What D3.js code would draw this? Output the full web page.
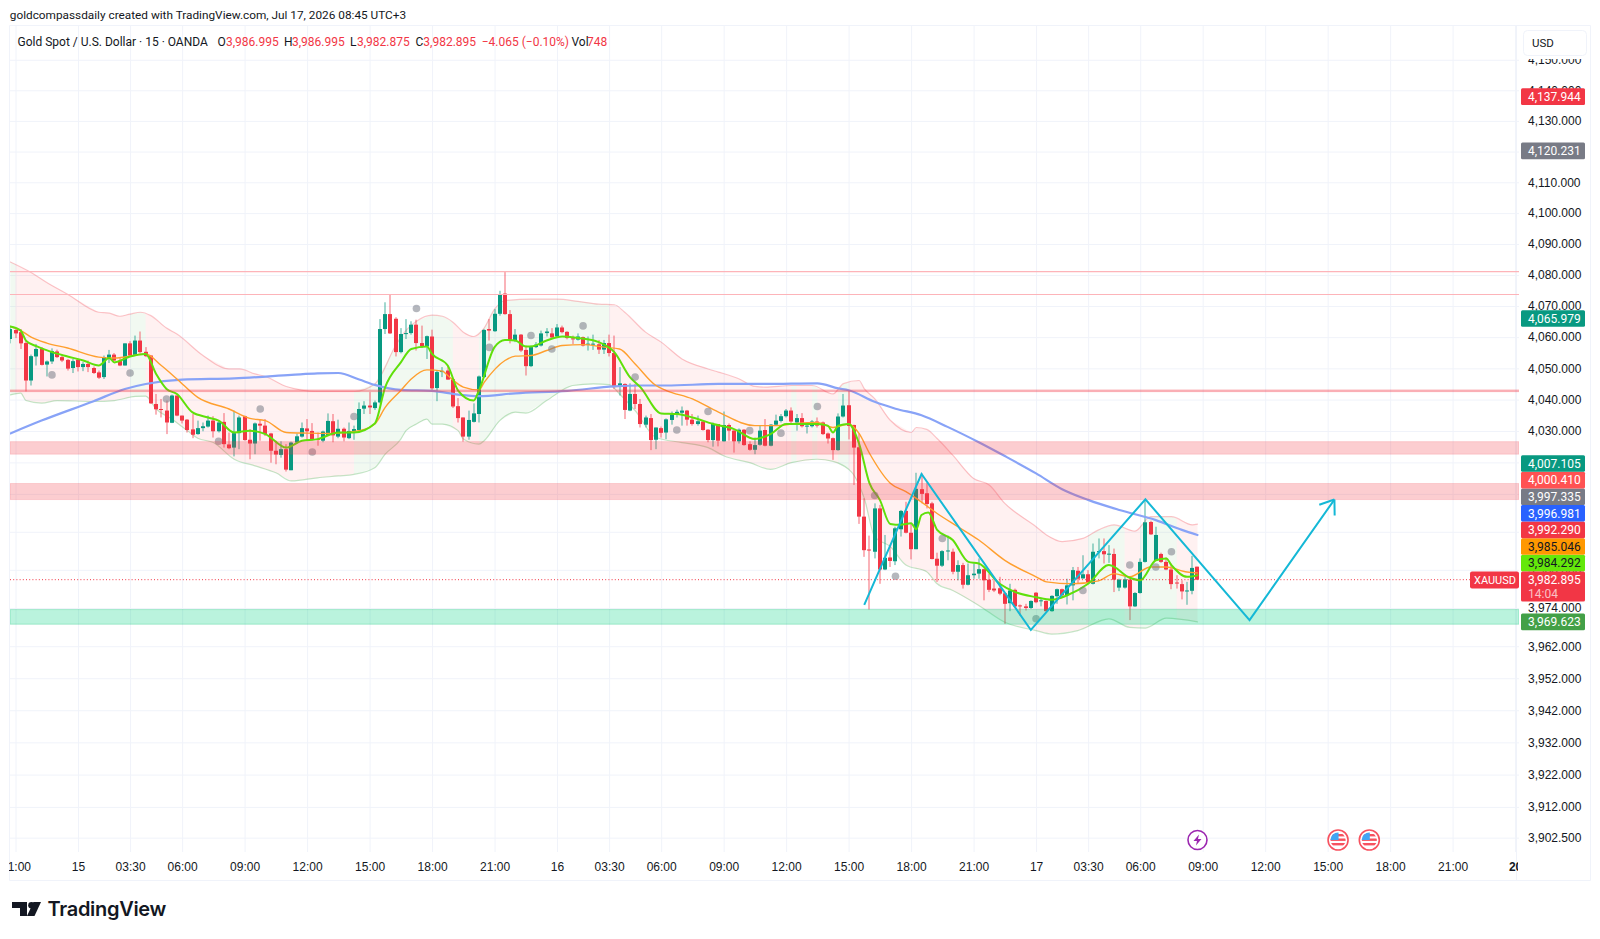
<!DOCTYPE html>
<html>
<head>
<meta charset="utf-8">
<title>XAUUSD 15m</title>
<script src="https://cdn.jsdelivr.net/npm/d3@7"></script>
<style>
  html, body { margin: 0; padding: 0; background: #fff; }
  svg { display: block; font-family: Roboto, "Open Sans", sans-serif; }
</style>
</head>
<body>
<svg id="chart" width="1600" height="939"></svg>
<script>
// Candles by session, each row is [open, high, low, close]. Bar 0 is 01:00 on the 15th.
const session14 = [
  [4059.4,4063.4,4058.0,4062.6],[4062.3,4062.9,4059.7,4061.2],[4061.6,4062.6,4056.2,4058.0],[4058.1,4058.9,4042.6,4046.1],
  [4046.1,4054.4,4044.5,4053.9],[4053.8,4057.8,4050.9,4056.2],[4056.4,4056.8,4050.9,4051.1],[4051.2,4052.5,4047.4,4052.2],
  [4052.2,4056.4,4051.4,4055.5],[4055.4,4056.0,4053.3,4053.6],[4053.6,4054.1,4052.0,4052.5],[4052.7,4053.0,4049.3,4049.9],
  [4050.1,4053.0,4048.5,4052.3]
];
const session15 = [
  [4052.8,4053.0,4049.0,4050.4],[4050.4,4052.0,4049.1,4051.4],[4051.4,4052.5,4048.8,4050.4],[4050.1,4050.6,4048.2,4048.5],
  [4048.7,4049.3,4046.6,4047.0],[4047.2,4054.1,4046.6,4053.6],[4053.3,4055.9,4051.7,4054.4],[4054.4,4054.9,4052.3,4052.5],
  [4052.5,4053.3,4050.7,4050.9],[4050.9,4058.0,4050.9,4058.0],[4058.0,4058.7,4053.8,4054.1],[4054.3,4060.5,4054.1,4058.9],
  [4058.9,4061.8,4054.8,4055.2],[4055.3,4056.8,4053.6,4053.9],[4054.1,4054.1,4038.6,4038.8],[4038.6,4041.8,4035.2,4036.9],
  [4037.0,4040.2,4034.3,4036.7],[4036.5,4039.7,4029.0,4032.7],[4032.6,4041.6,4032.5,4041.3],[4041.3,4041.3,4034.7,4034.9],
  [4034.9,4034.9,4032.4,4033.3],[4033.6,4033.8,4029.5,4030.3],[4030.5,4035.4,4027.7,4028.8],[4029.0,4033.3,4028.8,4030.9],
  [4030.9,4032.7,4029.9,4031.5],[4031.4,4034.9,4031.1,4033.3],[4033.3,4034.7,4027.9,4029.9],[4029.9,4033.5,4029.5,4032.7],
  [4032.9,4035.7,4024.7,4025.8],[4025.7,4029.5,4024.2,4024.5],[4024.7,4036.5,4021.9,4029.3],[4029.3,4034.9,4024.2,4034.3],
  [4034.7,4034.9,4026.9,4027.1],[4027.2,4030.6,4021.0,4026.0],[4026.0,4032.7,4022.6,4032.4],[4032.3,4033.6,4026.9,4031.7],
  [4031.7,4033.8,4028.4,4029.0],[4029.2,4029.4,4019.9,4023.7],[4023.7,4026.9,4019.4,4022.5],[4022.4,4026.7,4021.5,4024.2],
  [4024.2,4025.8,4017.1,4017.7],[4017.5,4026.6,4017.5,4026.3],[4026.3,4029.2,4026.0,4028.3],[4028.2,4032.7,4027.9,4030.9],
  [4030.8,4033.8,4026.9,4029.9],[4030.0,4032.5,4026.9,4027.1],[4027.4,4029.5,4025.3,4027.1],[4026.9,4030.1,4026.4,4029.8],
  [4028.7,4035.6,4028.7,4033.2],[4033.1,4035.4,4026.4,4028.6],[4028.2,4033.6,4027.7,4030.7],[4030.7,4031.1,4026.7,4027.9],
  [4027.7,4032.7,4027.4,4030.0],[4029.9,4031.7,4027.2,4030.6],[4030.3,4039.1,4030.1,4037.0],[4037.1,4039.5,4035.4,4038.1],
  [4038.1,4042.4,4035.4,4037.5],[4037.3,4039.7,4036.7,4039.1],[4039.1,4065.8,4038.8,4062.6],[4062.6,4071.2,4061.0,4067.4],
  [4067.4,4073.6,4061.0,4061.2],[4065.9,4066.4,4053.8,4055.2],[4055.2,4062.9,4054.8,4061.0],[4061.0,4065.8,4059.4,4061.3],
  [4061.3,4065.1,4060.8,4064.0],[4064.0,4065.6,4055.7,4058.1],[4058.1,4063.7,4056.5,4057.0],[4057.0,4060.5,4053.0,4060.3],
  [4060.2,4062.4,4043.1,4043.6],[4043.7,4049.3,4039.5,4048.8],[4048.8,4050.4,4047.2,4049.2],[4049.3,4050.9,4046.3,4046.4],
  [4046.5,4046.6,4037.3,4037.8],[4037.9,4040.5,4032.7,4034.1],[4034.3,4034.3,4026.6,4028.2],[4028.2,4036.5,4027.2,4033.5],
  [4032.9,4038.8,4032.7,4035.6],[4035.4,4047.7,4032.7,4047.4],[4047.2,4062.6,4046.9,4062.3],[4062.6,4065.8,4058.9,4062.1],
  [4061.9,4069.0,4061.7,4067.5],[4067.5,4074.9,4066.9,4073.8],[4074.0,4081.1,4067.2,4067.4],[4067.4,4068.7,4058.0,4058.9],
  [4058.9,4062.6,4058.4,4060.8],[4060.8,4061.0,4055.2,4055.7],[4055.9,4057.3,4047.7,4050.7],[4050.7,4057.3,4050.4,4056.8],
  [4056.8,4058.4,4056.5,4057.6],[4057.3,4062.1,4057.0,4061.2],[4061.3,4062.9,4060.2,4061.8],[4061.2,4062.9,4059.4,4059.9]
];
const session16 = [
  [4060.2,4064.2,4060.0,4063.1],[4063.1,4063.7,4061.2,4061.6],[4061.7,4061.9,4059.3,4059.7],[4059.6,4060.5,4057.8,4059.4],
  [4059.2,4061.2,4058.9,4060.2],[4060.0,4060.2,4057.0,4057.3],[4057.7,4060.2,4055.7,4057.9],[4057.6,4060.8,4055.9,4057.9],
  [4057.7,4059.1,4054.6,4056.0],[4056.0,4059.1,4054.6,4058.1],[4058.1,4060.8,4053.8,4054.9],[4054.9,4060.5,4043.4,4044.0],
  [4044.2,4050.4,4041.3,4045.2],[4045.0,4045.2,4033.8,4036.7],[4036.5,4045.2,4036.3,4041.8],[4041.8,4045.0,4037.0,4038.6],
  [4038.6,4040.2,4031.1,4032.2],[4032.0,4034.9,4031.1,4034.3],[4034.1,4035.4,4023.9,4027.1],[4027.2,4031.1,4024.2,4031.1],
  [4030.9,4031.4,4027.9,4029.4],[4029.5,4034.0,4027.4,4033.7],[4033.5,4036.2,4032.0,4035.3],[4035.1,4036.8,4034.3,4036.1],
  [4035.8,4037.8,4031.7,4036.5],[4036.5,4036.7,4031.7,4033.6],[4033.6,4035.4,4031.7,4032.2],[4032.2,4034.9,4031.7,4033.1],
  [4033.0,4033.3,4030.1,4030.3],[4030.4,4030.6,4026.4,4027.1],[4027.1,4032.7,4025.0,4032.2],[4032.2,4032.2,4025.1,4026.9],
  [4026.7,4036.2,4026.6,4031.9],[4031.9,4032.4,4026.9,4030.1],[4030.1,4030.3,4023.1,4026.7],[4026.7,4030.8,4026.0,4030.4],
  [4030.4,4030.6,4025.3,4025.5],[4025.8,4026.7,4023.7,4024.0],[4024.0,4027.9,4022.6,4025.5],[4025.6,4031.7,4025.3,4030.1],
  [4030.3,4033.8,4025.1,4025.3],[4025.3,4032.2,4025.1,4032.0],[4032.0,4035.2,4031.7,4033.3],[4033.2,4035.4,4032.7,4034.7],
  [4034.7,4037.0,4034.3,4036.5],[4036.5,4037.5,4032.5,4033.0],[4032.7,4035.4,4030.1,4034.1],[4034.1,4035.7,4031.1,4031.5],
  [4031.4,4032.7,4029.2,4031.7],[4031.5,4033.5,4031.1,4033.0],[4033.0,4034.3,4031.1,4031.7],[4032.7,4033.0,4028.7,4029.0],
  [4029.2,4029.5,4026.0,4027.6],[4027.7,4027.9,4020.8,4023.9],[4023.9,4035.6,4023.7,4034.6],[4034.6,4041.8,4034.3,4038.1],
  [4038.2,4043.0,4027.3,4031.6],[4031.9,4032.0,4012.8,4024.7],[4024.8,4029.2,4000.5,4002.8],[4002.8,4008.6,3990.1,3992.2],
  [3992.4,3996.8,3973.5,3992.2],[3991.7,4007.0,3989.6,4005.4],[4005.4,4006.5,3981.6,3986.1],[3986.1,3997.0,3985.9,3989.8],
  [3989.9,3993.8,3986.9,3988.8],[3988.7,3999.6,3987.5,3999.1],[3998.8,4004.9,3996.5,4004.6],[4004.6,4007.5,3997.5,3997.7],
  [3997.7,4000.7,3989.3,3992.5],[3992.5,4016.7,3992.5,4011.6],[4011.5,4016.5,4007.0,4010.0],[4010.2,4013.4,4005.4,4006.8],
  [4007.0,4007.5,3989.3,3989.4],[3989.5,3991.4,3982.2,3987.3],[3987.3,3992.2,3986.9,3991.9],[3991.8,3996.8,3989.0,3992.1],
  [3991.7,3992.7,3984.6,3985.4],[3985.4,3989.0,3982.7,3987.5],[3987.5,3988.2,3980.1,3981.3],[3981.3,3988.0,3981.1,3984.3],
  [3984.3,3988.0,3983.2,3984.8],[3984.8,3989.6,3983.2,3986.2],[3986.2,3986.4,3976.4,3982.7],[3982.9,3984.8,3979.0,3979.7],
  [3980.1,3982.7,3979.0,3979.5],[3980.2,3983.8,3978.0,3978.5],[3978.6,3978.7,3969.0,3975.3],[3975.5,3981.6,3973.0,3979.5],
  [3979.7,3980.1,3974.3,3974.5],[3974.8,3975.1,3971.6,3974.5],[3974.5,3975.3,3973.2,3974.0],[3974.0,3976.4,3973.7,3976.2]
];
const session17 = [
  [3978.8,3979.0,3975.5,3975.8],[3976.2,3977.2,3974.5,3976.4],[3976.2,3976.4,3972.9,3973.0],[3973.0,3978.0,3972.8,3977.8],
  [3977.7,3980.1,3975.3,3979.9],[3979.9,3980.1,3977.4,3978.0],[3978.0,3983.2,3975.1,3981.1],[3981.1,3986.9,3976.4,3985.9],
  [3985.7,3986.9,3981.6,3983.2],[3983.3,3990.6,3983.2,3984.6],[3984.6,3985.9,3981.6,3981.9],[3981.6,3994.3,3981.4,3991.7],
  [3991.6,3995.9,3989.6,3991.9],[3991.9,3995.9,3988.0,3990.9],[3990.9,3993.8,3988.2,3991.1],[3991.0,3992.7,3979.0,3982.9],
  [3980.4,3983.2,3979.3,3982.9],[3980.4,3984.0,3980.1,3983.0],[3982.9,3983.8,3970.2,3974.5],[3974.5,3979.0,3974.3,3978.7],
  [3978.7,3989.6,3978.5,3988.5],[3988.5,4008.1,3988.3,4001.0],[4001.1,4001.5,3997.0,3997.2],[3989.0,3999.6,3988.8,3997.0],
  [3991.0,3991.4,3988.2,3988.5],[3988.5,3989.9,3985.9,3986.1],[3986.1,3988.0,3979.9,3981.5],[3982.0,3984.3,3980.1,3981.7],
  [3981.5,3982.7,3976.7,3979.2],[3979.2,3982.2,3975.0,3979.5],[3979.4,3990.4,3978.3,3986.6],[3986.995,3986.995,3982.875,3982.895]
];
const firstBar = -13;

// Indicator knots as [bar, price].
const bandUpper = [[-13,4084.2],[-9,4080.8],[-6,4077.6],[-2,4073.8],[4,4068.0],[6,4067.7],[8,4066.7],[10,4067.4],[12,4068.0],[14,4066.9],[17,4062.9],[19,4061.0],[24,4054.1],[29,4049.8],[31,4049.8],[34,4048.2],[36,4047.4],[40,4044.2],[46,4042.6],[53,4042.6],[57,4045.0],[61,4057.3],[62,4060.0],[65,4065.1],[68,4067.1],[70,4066.7],[72,4064.8],[74,4061.6],[76,4060.2],[78,4062.9],[80,4069.0],[82,4071.7],[87,4072.2],[92,4072.2],[96,4071.5],[100,4070.6],[103,4070.4],[105,4068.0],[109,4061.6],[112,4058.4],[116,4053.0],[121,4049.8],[123,4048.8],[127,4046.6],[130,4044.2],[132,4044.0],[137,4044.5],[141,4044.5],[145,4041.8],[147,4045.1],[150,4046.1],[151,4043.5],[153,4040.3],[156,4033.4],[160,4029.5],[161,4031.1],[163,4030.5],[165,4027.6],[168,4022.3],[172,4014.9],[175,4012.8],[178,4007.0],[184,3999.6],[186,3997.0],[189,3994.9],[193,3995.9],[196,3998.6],[199,4000.2],[203,3998.2],[206,4002.8],[210,4002.8],[214,4000.2],[215,4000.41]];
const bandLower = [[-13,4041.5],[-11,4042.1],[-10,4039.7],[-7,4038.9],[-4,4039.7],[3,4039.4],[7,4039.7],[11,4041.0],[13,4041.1],[15,4037.0],[18,4033.8],[21,4030.1],[23,4027.7],[26,4026.3],[30,4021.0],[34,4018.9],[38,4016.7],[41,4014.1],[46,4015.1],[50,4015.7],[53,4016.2],[57,4018.3],[59,4022.6],[62,4027.4],[63,4030.1],[65,4032.2],[67,4033.8],[68,4032.2],[70,4032.2],[73,4030.1],[74,4027.4],[77,4025.8],[78,4026.9],[81,4033.3],[84,4036.0],[86,4035.7],[90,4039.7],[95,4044.5],[99,4045.0],[102,4044.8],[104,4041.8],[107,4036.5],[111,4027.9],[116,4026.3],[121,4024.7],[124,4022.1],[129,4019.9],[133,4017.8],[137,4019.9],[142,4021.0],[145,4020.3],[148,4017.8],[149,4016.0],[151,4008.6],[153,3996.5],[156,3993.3],[159,3987.5],[163,3985.4],[165,3981.6],[168,3979.5],[173,3974.8],[178,3969.5],[184,3966.9],[187,3965.8],[192,3966.9],[198,3970.6],[202,3967.9],[205,3967.7],[209,3970.8],[215,3969.623]];
const fastLine = [[-13,4063.4],[-11,4062.1],[-10,4058.9],[-8,4057.1],[-5,4055.2],[-2,4053.8],[1,4052.5],[4,4050.9],[6,4053.3],[7,4051.9],[10,4053.8],[13,4054.6],[15,4048.2],[17,4043.4],[19,4041.8],[22,4035.9],[25,4034.3],[27,4033.3],[30,4029.5],[33,4030.1],[36,4029.0],[40,4024.7],[43,4026.9],[46,4027.4],[50,4029.5],[53,4029.5],[57,4032.4],[59,4044.0],[62,4051.9],[64,4056.2],[67,4057.0],[68,4054.6],[71,4050.9],[73,4042.9],[76,4039.7],[77,4042.9],[80,4056.8],[82,4059.1],[84,4058.9],[86,4057.0],[87,4057.0],[90,4058.9],[93,4060.2],[96,4059.7],[100,4058.4],[103,4055.2],[106,4047.2],[108,4044.0],[112,4035.6],[115,4035.4],[118,4034.3],[122,4032.2],[126,4030.6],[130,4027.4],[133,4029.0],[136,4032.2],[142,4032.2],[144,4031.7],[145,4029.5],[146,4031.7],[148,4032.2],[150,4026.0],[152,4013.4],[154,4008.1],[156,4000.5],[158,4000.2],[160,4000.7],[161,3998.8],[162,4003.3],[163.3,4004.1],[165,3998.6],[168,3995.4],[171,3988.5],[173,3988.0],[177,3981.6],[180,3979.0],[184,3977.4],[187,3976.6],[190,3978.0],[194,3981.6],[198,3987.5],[202,3983.5],[204,3982.7],[207,3989.0],[209,3989.6],[210,3987.5],[213,3983.8],[215,3984.292]];
const mediumLine = [[-13,4063.4],[-11,4062.1],[-9,4060.0],[-6,4058.1],[-2,4056.5],[4,4053.6],[7,4053.3],[13,4054.6],[16,4050.9],[19,4046.6],[23,4040.7],[29,4037.0],[33,4034.0],[36,4033.3],[40,4029.5],[44,4029.3],[49,4029.2],[54,4030.1],[57,4032.2],[59,4037.5],[62,4042.9],[64,4046.6],[67,4049.5],[70,4049.1],[71,4047.7],[74,4044.0],[77,4043.1],[78,4045.5],[82,4052.5],[84,4053.9],[87,4054.1],[90,4055.7],[93,4057.3],[97,4057.6],[101,4056.8],[104,4056.2],[107,4051.4],[111,4044.5],[113,4042.9],[118,4040.2],[123,4036.0],[130,4031.7],[134,4031.7],[138,4032.4],[142,4032.7],[145,4031.1],[148,4032.2],[150,4029.2],[152,4022.9],[156,4013.4],[159,4010.7],[161,4008.6],[165,4003.8],[169,3999.6],[173,3995.4],[178,3989.0],[184,3983.8],[186,3982.2],[191,3981.6],[196,3982.5],[199,3984.8],[202,3983.8],[206,3986.9],[209,3986.9],[213,3985.3],[215,3985.046]];
const slowLine = [[-13,4029.2],[-7,4033.3],[3,4039.5],[9,4043.4],[13,4045.0],[20,4046.4],[30,4046.8],[41,4047.9],[46,4048.4],[50,4048.5],[54,4046.4],[57,4044.7],[62,4043.1],[68,4042.8],[73,4041.6],[77,4041.1],[84,4042.0],[94,4042.8],[103,4044.2],[108,4044.5],[113,4044.5],[123,4045.0],[132,4045.0],[142,4045.2],[146,4043.6],[148,4043.0],[153,4039.3],[157,4037.1],[162,4035.0],[167,4031.3],[173,4026.4],[178,4022.0],[184,4016.5],[189,4011.5],[194,4008.1],[200,4004.9],[207,4001.7],[212,3998.6],[215,3996.981]];

// Stretches of the band shaded by trend direction.
const bullishStretches = [[-13,-12],[10,13],[53,72],[77,102],[137,138],[141,142],[146,148],[194,201],[204,211]];
const bearishStretches = [[-12,10],[13,53],[72,77],[102,137],[138,141],[142,146],[148,194],[201,204],[211,215]];

// Signal dots as [bar, price].
const signalDots = [[-5,4047.9],[10,4048.5],[17,4040.2],[27,4026.7],[35,4037.0],[45,4023.3],[53,4034.6],[65,4069.2],[79,4056.7],[87,4060.5],[91,4056.2],[97,4063.6],[107,4047.2],[115,4030.3],[121,4036.2],[129,4030.1],[135,4029.3],[142,4037.8],[153,4009.5],[157,3984.0],[166,3995.9],[184,3970.6],[193,3979.5],[202,3987.5],[207,3986.9],[210,3991.7]];

// Drawn levels and zones, in price.
const resistanceLines = [4081.1, 4073.7];
const pivotZone = [4043.2, 4042.4];
const supplyZones = [[4026.6,4022.6],[4013.3,4008.2]];
const demandZone = [3973.5,3968.9];

// Hand-drawn projection path as [bar, price].
const projection = [[151,3975.0],[162,4016.3],[183,3967.1],[205,4008.3],[225,3970.2],[241.3,4008.2]];

// Axis ticks.
const priceTicks = [4150,4140,4130,4120,4110,4100,4090,4080,4070,4060,4050,4040,4030,4020,4010,3998,3986,3974,3962,3952,3942,3932,3922,3912,3902.5];
const timeBars = [-12,0,10,20,32,44,56,68,80,92,102,112,124,136,148,160,172,184,194,204,216,228,240,252,264,276];
const timeLabels = ["21:00","15","03:30","06:00","09:00","12:00","15:00","18:00","21:00","16","03:30","06:00","09:00","12:00","15:00","18:00","21:00","17","03:30","06:00","09:00","12:00","15:00","18:00","21:00","20"];

// Price badges on the axis.
const lastPrice = 3982.895;
const freeBadges = [
  {value:4137.944, fill:"#f23645", text:"#fff"},
  {value:4120.231, fill:"#787b86", text:"#fff"},
  {value:4065.979, fill:"#089981", text:"#fff"},
  {value:3969.623, fill:"#43a047", text:"#fff"}
];
const stackedBadges = [
  {value:3984.292, fill:"#64e80a", text:"#131722"},
  {value:3985.046, fill:"#ff9800", text:"#131722"},
  {value:3992.290, fill:"#f23645", text:"#fff"},
  {value:3996.981, fill:"#2962ff", text:"#fff"},
  {value:3997.335, fill:"#787b86", text:"#fff"},
  {value:4000.410, fill:"#ff5252", text:"#fff"},
  {value:4007.105, fill:"#089981", text:"#fff"}
];

// Event markers on the time scale.
const lightningBars = [215];
const flagBars = [242, 248];

const INK = "#131722", GRID = "#f0f3fa", UP = "#089981", DOWN = "#f23645";
const paneLeft = 10, paneRight = 1519, paneTop = 26, paneBottom = 852, frameRight = 1590, frameBottom = 880;

const svg = d3.select("#chart");
const candles = session14.concat(session15, session16, session17)
  .map((r, k) => ({bar: firstBar + k, open: r[0], high: r[1], low: r[2], close: r[3]}));

const x = d3.scaleLinear().domain([0, 276]).range([78, 1515.1]);
const y = d3.scaleLog().domain([4160.7, 3895.3]).range([27.2, 861]);

const defs = svg.append("defs");
defs.append("clipPath").attr("id", "pane").append("rect")
  .attr("x", paneLeft).attr("y", paneTop).attr("width", paneRight - paneLeft).attr("height", paneBottom - paneTop);
defs.append("clipPath").attr("id", "timeStrip").append("rect")
  .attr("x", paneLeft - 1).attr("y", paneBottom).attr("width", 1518 - paneLeft + 1).attr("height", frameBottom - paneBottom);

// Outer frame
svg.append("path").attr("fill", "none").attr("stroke", GRID)
  .attr("d", `M${paneLeft - 0.5},${paneTop - 0.5}H${frameRight + 0.5}V${frameBottom + 0.5}H${paneLeft - 0.5}Z`);

// Grid, built from the same axes that label the chart
const gridY = d3.axisRight(y).tickValues(priceTicks).tickSize(paneRight - paneLeft).tickFormat("");
svg.append("g").attr("transform", `translate(${paneLeft},0)`).call(gridY)
  .call(g => g.select(".domain").remove())
  .call(g => g.selectAll("line").attr("stroke", GRID));
const gridX = d3.axisBottom(x).tickValues(timeBars).tickSize(paneBottom - paneTop).tickFormat("");
svg.append("g").attr("clip-path", "url(#pane)")
  .append("g").attr("transform", `translate(0,${paneTop})`).call(gridX)
  .call(g => g.select(".domain").remove())
  .call(g => g.selectAll("line").attr("stroke", GRID));
svg.append("line").attr("x1", 1516.5).attr("x2", 1516.5).attr("y1", paneTop).attr("y2", frameBottom).attr("stroke", GRID);

const pane = svg.append("g").attr("clip-path", "url(#pane)");

// Trend-shaded channel between the two band lines
const priceAt = pts => {
  const bars = pts.map(p => p[0]);
  return b => {
    const k = Math.max(1, Math.min(pts.length - 1, d3.bisectLeft(bars, b)));
    const a = pts[k - 1], c = pts[k];
    return a[1] + (c[1] - a[1]) * (b - a[0]) / (c[0] - a[0]);
  };
};
const upperAt = priceAt(bandUpper), lowerAt = priceAt(bandLower);
const channelBars = Array.from(new Set(bandUpper.concat(bandLower).map(p => p[0]))).sort((a, b) => a - b);
const channelArea = d3.area().x(b => x(b)).y0(b => y(upperAt(b))).y1(b => y(lowerAt(b)));
const shade = (ranges, fill) => ranges.forEach(([a, b]) => {
  pane.append("path")
    .datum([a].concat(channelBars.filter(v => v > a && v < b), [b]))
    .attr("d", channelArea).attr("fill", fill).attr("stroke", "none");
});
shade(bearishStretches, "rgba(255,82,82,0.08)");
shade(bullishStretches, "rgba(76,175,80,0.08)");

const trace = d3.line().x(d => x(d[0])).y(d => y(d[1]));
const smooth = d3.line().x(d => x(d[0])).y(d => y(d[1])).curve(d3.curveMonotoneX);
const drawLine = (pts, color, width, gen = smooth) => pane.append("path").datum(pts)
  .attr("d", gen).attr("fill", "none").attr("stroke", color).attr("stroke-width", width)
  .attr("stroke-linejoin", "round").attr("stroke-linecap", "round");
drawLine(bandUpper, "rgba(242,54,69,0.28)", 1.2);
drawLine(bandLower, "rgba(76,175,80,0.32)", 1.2);

// Candles
const bodyWidth = 4;
const candle = pane.append("g").selectAll("g").data(candles).join("g")
  .attr("fill", d => d.close >= d.open ? UP : DOWN).attr("stroke", "none");
candle.append("rect").attr("class", "wick")
  .attr("x", d => Math.round(x(d.bar)) - 0.5).attr("width", 1)
  .attr("y", d => y(d.high)).attr("height", d => Math.max(1, y(d.low) - y(d.high)))
  .attr("opacity", 0.75);
candle.append("rect").attr("class", "body")
  .attr("x", d => Math.round(x(d.bar)) - bodyWidth / 2).attr("width", bodyWidth)
  .attr("y", d => y(Math.max(d.open, d.close)))
  .attr("height", d => Math.max(1, Math.abs(y(d.open) - y(d.close))));

// Moving averages
drawLine(slowLine, "#88a3f7", 2.2);
drawLine(mediumLine, "#ff9f2e", 1.4);
drawLine(fastLine, "#5fe00a", 2);

// Signal dots
pane.append("g").selectAll("circle").data(signalDots).join("circle")
  .attr("cx", d => x(d[0])).attr("cy", d => y(d[1])).attr("r", 3.8)
  .attr("fill", "rgba(120,123,134,0.55)");

// Levels and zones
const zoneRect = (g, pair, fill, stroke) => g.append("rect")
  .attr("x", paneLeft).attr("width", paneRight - paneLeft)
  .attr("y", y(pair[0])).attr("height", y(pair[1]) - y(pair[0]))
  .attr("fill", fill).attr("stroke", stroke);
resistanceLines.forEach(v => pane.append("line")
  .attr("x1", paneLeft).attr("x2", paneRight).attr("y1", y(v)).attr("y2", y(v))
  .attr("stroke", "#fdb4b9").attr("stroke-width", 1.2));
zoneRect(pane, pivotZone, "rgba(242,54,69,0.4)", "none");
supplyZones.forEach(z => zoneRect(pane, z, "rgba(242,54,69,0.25)", "rgba(242,54,69,0.16)"));
zoneRect(pane, demandZone, "rgba(0,210,130,0.27)", "rgba(0,190,110,0.28)");

// Last price dotted line
pane.append("line").attr("x1", paneLeft).attr("x2", 1470)
  .attr("y1", y(lastPrice)).attr("y2", y(lastPrice))
  .attr("stroke", DOWN).attr("stroke-dasharray", "1 2.2");

// Projection zigzag with its arrow head
const CYAN = "#14b8d6";
pane.append("path").datum(projection).attr("d", trace).attr("fill", "none")
  .attr("stroke", CYAN).attr("stroke-width", 2).attr("stroke-linejoin", "miter");
{
  const end = projection[projection.length - 1], prev = projection[projection.length - 2];
  const ex = x(end[0]), ey = y(end[1]);
  const angle = Math.atan2(ey - y(prev[1]), ex - x(prev[0]));
  const head = a => `M${ex + 16 * Math.cos(angle + a)},${ey + 16 * Math.sin(angle + a)}L${ex},${ey}`;
  pane.append("path").attr("d", head(Math.PI * 0.8) + head(-Math.PI * 0.8))
    .attr("fill", "none").attr("stroke", CYAN).attr("stroke-width", 2);
}

// Price axis
const axisY = d3.axisRight(y).tickValues(priceTicks).tickSize(0).tickPadding(0).tickFormat(d3.format(",.3f"));
svg.append("g").attr("transform", "translate(1528,0)").call(axisY)
  .call(g => g.select(".domain").remove())
  .call(g => g.selectAll("text").attr("font-size", 12).attr("fill", INK).attr("font-family", null));

// USD button sits above the top tick label and covers its upper half
svg.append("rect").attr("x", 1522).attr("y", 28).attr("width", 66).attr("height", 31).attr("fill", "#fff");
svg.append("rect").attr("x", 1523.5).attr("y", 30.5).attr("width", 63).attr("height", 25).attr("rx", 4)
  .attr("fill", "#fff").attr("stroke", GRID);
svg.append("text").attr("x", 1532).attr("y", 47).attr("font-size", 11.5).attr("fill", INK).text("USD");

// Price badges
const fmt = d3.format(",.3f");
const badgeLeft = 1521, badgeWidth = 64, badgeHeight = 16.6;
const badge = (value, cy, fill, text) => {
  svg.append("rect").attr("x", badgeLeft).attr("y", cy - badgeHeight / 2).attr("width", badgeWidth)
    .attr("height", badgeHeight).attr("rx", 1.5).attr("fill", fill);
  svg.append("text").attr("x", 1528).attr("y", cy + 4.3).attr("font-size", 12).attr("fill", text).text(fmt(value));
};
freeBadges.forEach(d => badge(d.value, y(d.value), d.fill, d.text));
stackedBadges.forEach((d, k) => badge(d.value, y(lastPrice) - 16.6 * (k + 1), d.fill, d.text));

const lastY = y(lastPrice);
svg.append("rect").attr("x", badgeLeft).attr("y", lastY - 8.3).attr("width", badgeWidth).attr("height", 30).attr("rx", 1.5).attr("fill", DOWN);
svg.append("text").attr("x", 1528).attr("y", lastY + 4.3).attr("font-size", 12).attr("fill", "#fff").text(fmt(lastPrice));
svg.append("text").attr("x", 1528).attr("y", lastY + 18.5).attr("font-size", 12).attr("fill", "rgba(255,255,255,0.7)").text("14:04");
svg.append("rect").attr("x", 1470).attr("y", lastY - 8.3).attr("width", 49).attr("height", 17).attr("rx", 2).attr("fill", DOWN);
svg.append("text").attr("x", 1474).attr("y", lastY + 4.3).attr("font-size", 11).attr("fill", "#fff").text("XAUUSD");

// Time axis
const axisX = d3.axisBottom(x).tickValues(timeBars).tickSize(0).tickPadding(0)
  .tickFormat((d, k) => timeLabels[k]);
svg.append("g").attr("clip-path", "url(#timeStrip)")
  .append("g").attr("transform", "translate(0,862)").call(axisX)
  .call(g => g.select(".domain").remove())
  .call(g => g.selectAll("text").attr("font-size", 12).attr("fill", INK).attr("font-family", null)
    .attr("font-weight", d => d === 276 ? 700 : 400));

// Event markers
const events = svg.append("g");
lightningBars.forEach(b => {
  const g = events.append("g").attr("transform", `translate(${x(b)},840)`);
  g.append("circle").attr("r", 9.5).attr("fill", "#fff").attr("stroke", "#9c27b0").attr("stroke-width", 1.6);
  g.append("path").attr("d", "M1.5,-5.5L-4,1H-0.5L-1.5,5.5L4,-1H0.5Z").attr("fill", "#9c27b0");
});
flagBars.forEach((b, k) => {
  const g = events.append("g").attr("transform", `translate(${x(b)},840)`);
  const clipId = "flagClip" + k;
  defs.append("clipPath").attr("id", clipId).append("circle").attr("r", 7.6);
  g.append("circle").attr("r", 10).attr("fill", "#fff").attr("stroke", "#f7525f").attr("stroke-width", 1.6);
  const f = g.append("g").attr("clip-path", `url(#${clipId})`);
  f.append("rect").attr("x", -8).attr("y", -8).attr("width", 16).attr("height", 16).attr("fill", "#fff");
  [-6, -1.5, 3].forEach(s => f.append("rect").attr("x", -8).attr("y", s).attr("width", 16).attr("height", 2.4).attr("fill", "#f7525f"));
  f.append("rect").attr("x", -8).attr("y", -8).attr("width", 8.5).attr("height", 8).attr("fill", "#42a5f5");
});

// Attribution and symbol legend
svg.append("text").attr("x", 9.8).attr("y", 19).attr("font-size", 11.8).attr("fill", INK)
  .text("goldcompassdaily created with TradingView.com, Jul 17, 2026 08:45 UTC+3");
const legend = [
  [17.5, "Gold Spot / U.S. Dollar · 15 · OANDA", INK],
  [217.5, "O", INK], [226, "3,986.995", DOWN],
  [284, "H", INK], [292, "3,986.995", DOWN],
  [350, "L", INK], [357, "3,982.875", DOWN],
  [415.5, "C", INK], [423.3, "3,982.895", DOWN],
  [481.7, "−4.065 (−0.10%)", DOWN],
  [571.5, "Vol", INK], [587, "748", DOWN]
];
svg.append("g").selectAll("text").data(legend).join("text")
  .attr("x", d => d[0]).attr("y", 45.5).attr("font-size", 12).attr("fill", d => d[2]).text(d => d[1]);

// Footer brand
const logo = svg.append("g").attr("fill", "#131722");
logo.append("path").attr("d", "M12,902H27V916H20V908H12Z");
logo.append("circle").attr("cx", 31.5).attr("cy", 905.2).attr("r", 3.3);
logo.append("path").attr("d", "M33.5,902H41L34.5,916H27Z");
svg.append("text").attr("x", 47.5).attr("y", 916).attr("font-family", "Inter, Roboto, sans-serif")
  .attr("font-size", 20).attr("font-weight", 600).attr("fill", "#131722").attr("letter-spacing", -0.3).text("TradingView");
</script>
</body>
</html>
